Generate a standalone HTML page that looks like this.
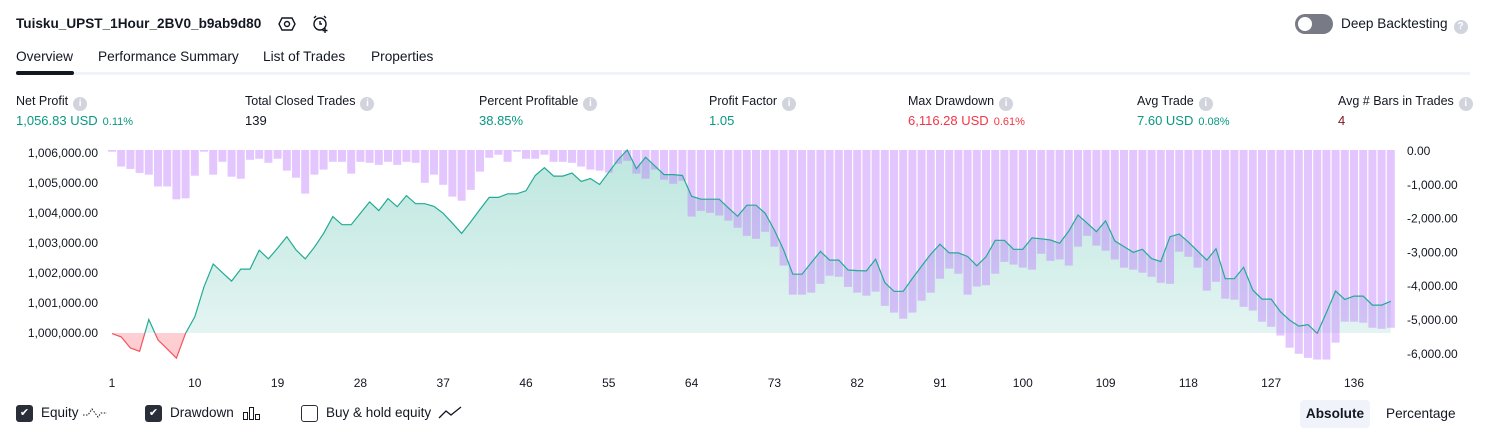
<!DOCTYPE html>
<html><head><meta charset="utf-8">
<style>
body{margin:0;width:1486px;height:438px;background:#fff;font-family:"Liberation Sans",sans-serif;color:#131722;position:relative;overflow:hidden}
.abs{position:absolute;white-space:nowrap}
.title{left:16px;top:16px;font-size:13.6px;font-weight:bold}
.tab{top:49px;font-size:13.7px;color:#131722}
.lbl{top:94px;font-size:12.5px;color:#131722}
.val{top:113px;font-size:13px}
.info{display:inline-block;width:14px;height:14px;border-radius:7px;background:#d1d4dc;color:#fff;font-size:10px;text-align:center;line-height:14px;margin-left:5px;vertical-align:-1px;font-weight:bold}
.g{color:#089981}.r{color:#f23645}.b{color:#131722}
.small{font-size:11px;margin-left:5px}
.cb{display:inline-block;width:17px;height:17px;border-radius:3px;vertical-align:middle;margin-right:8px;box-sizing:border-box}
.leg{top:403px;font-size:13.5px;line-height:20px}
</style></head><body>
<div class="abs title">Tuisku_UPST_1Hour_2BV0_b9ab9d80</div>
<svg class="abs" style="left:278px;top:15px" width="18" height="18"><polygon points="4,3 14,3 17,9 14,15 4,15 1,9" fill="none" stroke="#131722" stroke-width="1.4"/><circle cx="9" cy="9" r="2.5" fill="none" stroke="#131722" stroke-width="1.4"/></svg>
<svg class="abs" style="left:311px;top:14px" width="20" height="20"><circle cx="9" cy="10" r="6" fill="none" stroke="#131722" stroke-width="1.4"/><path d="M9 7v3h2M3 4l2-2M15 4l-2-2M14 14v5M11.5 16.5h5" stroke="#131722" stroke-width="1.4" fill="none"/></svg>
<div class="abs" style="left:1295px;top:14px;width:38px;height:20px;border-radius:10px;background:#787b86"><div style="position:absolute;left:3px;top:3px;width:14px;height:14px;border-radius:7px;background:#fff"></div></div>
<div class="abs" style="left:1341px;top:16px;font-size:13.6px">Deep Backtesting<span class="info" style="margin-left:6px">?</span></div>
<div class="abs tab" style="left:16px">Overview</div>
<div class="abs tab" style="left:98px">Performance Summary</div>
<div class="abs tab" style="left:263px">List of Trades</div>
<div class="abs tab" style="left:371px">Properties</div>
<div class="abs" style="left:16px;top:72px;width:1454px;height:3px;background:#f0f3fa"></div>
<div class="abs" style="left:16px;top:71px;width:58px;height:4px;border-radius:2px;background:#131722"></div>

<div class="abs lbl" style="left:16px">Net Profit<span class="info">i</span></div>
<div class="abs val g" style="left:16px">1,056.83 USD<span class="small">0.11%</span></div>
<div class="abs lbl" style="left:245px">Total Closed Trades<span class="info">i</span></div>
<div class="abs val b" style="left:245px">139</div>
<div class="abs lbl" style="left:479px">Percent Profitable<span class="info">i</span></div>
<div class="abs val g" style="left:479px">38.85%</div>
<div class="abs lbl" style="left:709px">Profit Factor<span class="info">i</span></div>
<div class="abs val g" style="left:709px">1.05</div>
<div class="abs lbl" style="left:908px">Max Drawdown<span class="info">i</span></div>
<div class="abs val r" style="left:908px">6,116.28 USD<span class="small">0.61%</span></div>
<div class="abs lbl" style="left:1137px">Avg Trade<span class="info">i</span></div>
<div class="abs val g" style="left:1137px">7.60 USD<span class="small">0.08%</span></div>
<div class="abs lbl" style="left:1338px">Avg # Bars in Trades<span class="info">i</span></div>
<div class="abs val" style="left:1338px;color:#801922">4</div>

<svg id="chart" class="abs" style="left:0;top:140px" width="1486" height="250">
<defs>
<linearGradient id="gg" x1="0" y1="0" x2="0" y2="1"><stop offset="0" stop-color="#22ab94" stop-opacity="0.3"/><stop offset="1" stop-color="#22ab94" stop-opacity="0.1"/></linearGradient>
<linearGradient id="rg" x1="0" y1="0" x2="0" y2="1"><stop offset="0" stop-color="#f7525f" stop-opacity="0.05"/><stop offset="1" stop-color="#f7525f" stop-opacity="0.3"/></linearGradient>
<clipPath id="cpos"><rect x="0" y="0" width="1486" height="193"/></clipPath>
<clipPath id="cneg"><rect x="0" y="193" width="1486" height="60"/></clipPath>
</defs>
</svg>

<div class="abs leg" style="left:16px"><span class="cb" style="background:#2a2e39;color:#fff;font-size:11px;text-align:center;line-height:17px">✔</span>Equity <svg width="26" height="14" style="vertical-align:middle"><path d="M1 9h5l4-6 3 4 3 4 3-4h6" fill="none" stroke="#131722" stroke-dasharray="1.5 1.5"/></svg></div>
<div class="abs leg" style="left:145px"><span class="cb" style="background:#2a2e39;color:#fff;font-size:11px;text-align:center;line-height:17px">✔</span>Drawdown <svg width="20" height="14" style="vertical-align:middle;margin-left:4px"><rect x="1.5" y="6.5" width="4" height="7" fill="none" stroke="#131722"/><rect x="7.5" y="1.5" width="4" height="12" fill="none" stroke="#131722"/><rect x="13.5" y="8.5" width="4" height="5" fill="none" stroke="#131722"/></svg></div>
<div class="abs leg" style="left:301px"><span class="cb" style="border:1.5px solid #2a2e39"></span>Buy &amp; hold equity <svg width="24" height="14" style="vertical-align:middle;margin-left:3px"><path d="M1 12l7-7 5 4 10-8" fill="none" stroke="#131722" stroke-width="1.3"/></svg></div>
<div class="abs" style="left:1300px;top:400px;width:70px;height:28px;background:#f0f3fa;border-radius:4px;font-size:13.6px;font-weight:bold;text-align:center;line-height:28px">Absolute</div>
<div class="abs" style="left:1386px;top:406px;font-size:13.6px">Percentage</div>

<script>
const equity=[-20,-130,-500,-610,450,-230,-530,-840,-10,540,1540,2300,2010,1730,2130,2130,2760,2470,2830,3210,2770,2470,2860,3320,3880,3610,3610,3990,4370,4080,4480,4210,4580,4310,4310,4220,3990,3660,3320,3710,4120,4520,4520,4640,4640,4740,5250,5510,5230,5230,5330,5050,5150,4950,5360,5770,6100,5480,5860,5570,5280,5280,5250,4560,4460,4460,4460,4170,3890,4260,4260,3990,3430,2770,1960,1960,2340,2720,2430,2430,2100,2080,2070,2460,1680,1390,1390,1820,2230,2630,2960,2670,2670,2550,2240,2540,3090,3090,2790,2790,3170,3140,3100,2990,3400,3930,3660,3380,3740,3070,2880,2690,2790,2480,2380,3210,3300,3030,2730,2430,2810,1810,1810,2190,1430,1130,1130,710,430,230,280,-10,680,1400,1120,1230,1230,930,930,1057];
const drawdown=[20,460,530,650,700,1050,1050,1430,1400,730,20,700,320,760,820,260,230,350,230,580,790,1260,700,550,320,320,670,320,350,410,320,410,320,350,940,700,1000,1350,1470,1150,610,200,110,320,20,230,230,110,320,320,350,460,550,580,640,380,290,670,820,550,850,970,880,1940,1770,1830,1910,2060,2270,2510,2600,2390,2830,3390,4250,4250,4190,3930,3690,3720,4020,4190,4280,4160,4580,4780,4960,4780,4430,4190,3780,3480,3630,4250,4010,3970,3630,3280,3360,3450,3510,3040,3250,3210,3390,2830,2510,2800,2950,3210,3450,3510,3600,3720,3900,3930,2980,3130,3450,4130,3870,4370,4400,4610,4720,5050,5200,5460,5820,6000,6120,6170,6170,5670,5050,5050,5080,5230,5260,5230];
const leftTicks=[1000000,1001000,1002000,1003000,1004000,1005000,1006000];
const rightTicks=[0,-1000,-2000,-3000,-4000,-5000,-6000];
const xTicks=[1,10,19,28,37,46,55,64,73,82,91,100,109,118,127,136];
const BASE=1000000;
const svg=document.getElementById('chart');
const NS='http://www.w3.org/2000/svg';
function x(i){return 112+(i-1)*9.2;}
function yE(v){return 193-(v)*0.03;}
function yD(d){return 11+d*0.0338;}
function mk(t,a){const e=document.createElementNS(NS,t);for(const k in a)e.setAttribute(k,a[k]);svg.appendChild(e);return e;}
let pts=equity.map((v,i)=>x(i+1)+','+yE(v)).join(' ');
let poly=`${x(1)},${yE(0)} ${pts} ${x(equity.length)},${yE(0)}`;
const ap=mk('polygon',{points:poly,fill:'url(#gg)','clip-path':'url(#cpos)'});


const an=mk('polygon',{points:poly,fill:'url(#rg)','clip-path':'url(#cneg)'});


drawdown.forEach((d,i)=>{
  const r=mk('rect',{x:x(i+1)-4,y:10,width:8,height:Math.max(1,yD(d)-10),fill:'rgba(190,120,255,0.42)'});
  
  
});
const lp=mk('polyline',{points:pts,fill:'none',stroke:'#22ab94','stroke-width':1.2,'clip-path':'url(#cpos)'});


const ln=mk('polyline',{points:pts,fill:'none',stroke:'#f7525f','stroke-width':1.2,'clip-path':'url(#cneg)'});


leftTicks.forEach(v=>{
  const t=mk('text',{x:98,y:yE(v-BASE)+4,'text-anchor':'end','font-size':12,fill:'#131722'});
  t.textContent=v.toLocaleString('en-US')+'.00';
  
  
});
rightTicks.forEach(v=>{
  const t=mk('text',{x:1407,y:yD(-v)+4,'font-size':12,fill:'#131722'});
  t.textContent=(v<0?'-':'')+Math.abs(v).toLocaleString('en-US')+'.00';
  
  
});
xTicks.forEach(v=>{
  const t=mk('text',{x:x(v),y:247,'text-anchor':'middle','font-size':12,fill:'#131722'});
  t.textContent=v;
  
  
});
</script>
</body></html>
